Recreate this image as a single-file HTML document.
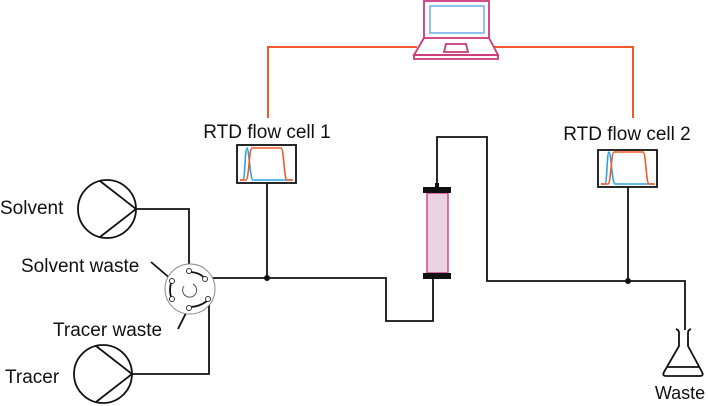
<!DOCTYPE html>
<html><head><style>body{margin:0;background:#fff}svg{display:block}text{font-family:"Liberation Sans",Arial,sans-serif;fill:#111}</style></head>
<body>
<svg width="708" height="406" viewBox="0 0 708 406" xmlns="http://www.w3.org/2000/svg">
<g fill="none" stroke="#f05a28" stroke-width="2">
<path d="M268 118 V47 H417"/><path d="M494 47 H633 V118"/>
</g>
<!-- laptop -->
<g fill="none" stroke="#cc3a7a" stroke-width="1.8">
<rect x="424" y="1" width="65" height="37"/>
<path d="M424 38 L414 55 H498 L489 38"/>
<rect x="414" y="55" width="84" height="4"/>
<path d="M446 44 H466 L468 52 H444 Z"/>
</g>
<rect x="430" y="6" width="54" height="27" fill="none" stroke="#6aaee6" stroke-width="1.5"/>
<!-- labels -->
<g font-size="19">
<text x="267" y="138" text-anchor="middle">RTD flow cell 1</text>
<text x="627" y="140" text-anchor="middle">RTD flow cell 2</text>
<text x="0" y="214">Solvent</text>
<text x="21" y="272">Solvent waste</text>
<text x="53" y="336">Tracer waste</text>
<text x="5" y="383">Tracer</text>
<text x="680" y="399" text-anchor="middle" font-size="18">Waste</text>
</g>
<!-- flow cells -->
<g>
<rect x="237" y="145" width="59" height="38" fill="#fff" stroke="#111" stroke-width="1.8"/>
<path d="M240 180 H243 C245 180 245 148 247 148 C249 148 250 180 253 180 H292" fill="none" stroke="#29a3e0" stroke-width="1.6"/>
<path d="M240 180 H246 C249 180 249 148 252 148 H281 C284 148 284 180 287 180 H293" fill="none" stroke="#f05a28" stroke-width="1.6"/>
<rect x="598" y="150" width="59" height="37" fill="#fff" stroke="#111" stroke-width="1.8"/>
<path d="M601 184 H605 C607 184 607 152 609 152 C611 152 612 184 615 184 H654" fill="none" stroke="#29a3e0" stroke-width="1.6"/>
<path d="M601 184 H608 C611 184 611 152 614 152 H643 C646 152 646 184 649 184 H655" fill="none" stroke="#f05a28" stroke-width="1.6"/>
</g>
<!-- tubing -->
<g fill="none" stroke="#111" stroke-width="1.8">
<path d="M136 209 H189 V271"/>
<path d="M132 374 H209 V299"/>
<path d="M205 278 H386 V321 H433 V279"/>
<path d="M267 183 V278"/>
<path d="M437 187 V137 H487 V281 H685 V330"/>
<path d="M628 187 V281"/>
<path d="M151 262 L172 280"/>
<path d="M178 329 L188 309"/>
</g>
<circle cx="267" cy="278" r="3" fill="#111"/>
<circle cx="628" cy="281" r="3" fill="#111"/>
<!-- pumps -->
<g fill="none" stroke="#111" stroke-width="1.8">
<circle cx="107" cy="209" r="29"/><path d="M100 181 L136 209 L100 237"/>
<circle cx="103" cy="374" r="29"/><path d="M96 346 L132 374 L96 402"/>
</g>
<!-- valve -->
<circle cx="190" cy="289" r="25" fill="#fff" stroke="#888" stroke-width="1"/>
<g fill="none" stroke="#111" stroke-width="1.8">
<path d="M191 272 Q201 273 205 279"/>
<path d="M171 283 Q169 290 171 297"/>
<path d="M207 301 Q199 307 190 307"/>
</g>
<path d="M184 286 A7 7 0 1 0 193 284" fill="none" stroke="#555" stroke-width="1"/>
<g fill="#fff" stroke="#333" stroke-width="1">
<circle cx="189" cy="271" r="2.5"/><circle cx="205" cy="279" r="2.5"/><circle cx="172" cy="281" r="2.5"/>
<circle cx="172" cy="299" r="2.5"/><circle cx="208" cy="299" r="2.5"/><circle cx="189" cy="308" r="2.5"/>
</g>
<!-- column -->
<rect x="427" y="193" width="21" height="80" fill="#ead2e3" stroke="#d0488f" stroke-width="1.5"/>
<rect x="423" y="187" width="28" height="6" fill="#111"/>
<rect x="423" y="273" width="28" height="6" fill="#111"/>
<rect x="435" y="183" width="4" height="5" fill="#111"/>
<!-- flask -->
<g fill="none" stroke="#111" stroke-width="1.8">
<path d="M676 329 Q679 330 679 333 V346 L664 372 Q662 376 666 376 H700 Q704 376 702 372 L688 346 V333 Q688 330 691 329"/>
<path d="M667 367 H699"/>
</g>
</svg>
</body></html>
